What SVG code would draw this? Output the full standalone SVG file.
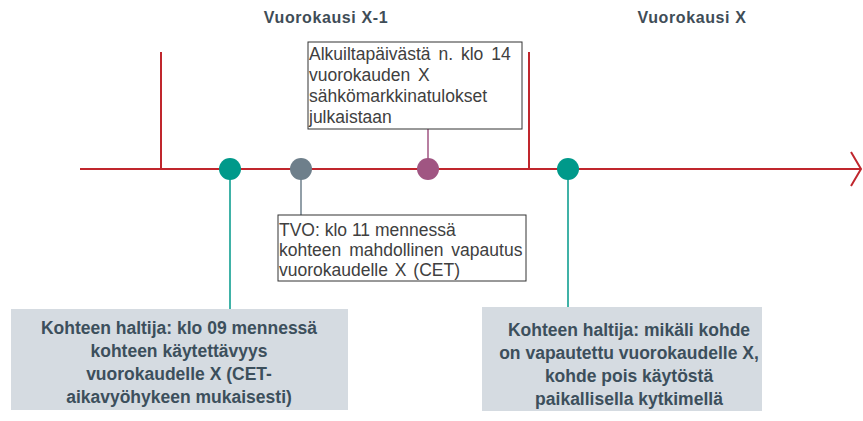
<svg xmlns="http://www.w3.org/2000/svg" width="863" height="421" viewBox="0 0 863 421">
<style>
.hdr{font-family:"Liberation Sans",Arial,sans-serif;font-weight:bold;font-size:16px;fill:#3f4d57;letter-spacing:0.6px;text-anchor:middle}
.note{font-family:"Liberation Sans",Arial,sans-serif;font-size:17.5px;fill:#404040}
.nbox{fill:#ffffff;stroke:#333333;stroke-width:1}
.gbox{fill:#d5dbe1}
.gtxt{font-family:"Liberation Sans",Arial,sans-serif;font-weight:bold;font-size:17.5px;fill:#3c4f5c;text-anchor:middle}
.red{stroke:#c0262d;stroke-width:2;fill:none}
</style>
<g id="connectors">
<line class="red" x1="80" y1="169" x2="861" y2="169"/>
<polyline class="red" points="851,152 861,169 851,186"/>
<line class="red" x1="161" y1="52" x2="161" y2="169"/>
<line class="red" x1="529" y1="52" x2="529" y2="169"/>
<line x1="230" y1="169" x2="230" y2="309" stroke="#00998a" stroke-width="1.5"/>
<line x1="301" y1="169" x2="301" y2="215" stroke="#6e7f8b" stroke-width="1.5"/>
<line x1="428" y1="169" x2="428" y2="129" stroke="#a05582" stroke-width="1.5"/>
<line x1="568" y1="169" x2="568" y2="307" stroke="#00998a" stroke-width="1.5"/>
</g>
<g id="header-x1"><text class="hdr" x="326" y="23">Vuorokausi X-1</text></g>
<g id="header-x"><text class="hdr" x="692" y="23">Vuorokausi X</text></g>
<g id="dot-teal-1"><circle cx="230" cy="169" r="11" fill="#00998a"/></g>
<g id="dot-gray"><circle cx="301" cy="169" r="11" fill="#6e7f8b"/></g>
<g id="dot-purple"><circle cx="428" cy="169" r="11" fill="#a05582"/></g>
<g id="dot-teal-2"><circle cx="568" cy="169" r="11" fill="#00998a"/></g>
<g id="note-results">
<rect class="nbox" x="308" y="42" width="214" height="87"/>
<text class="note" x="309" y="60" word-spacing="3">Alkuiltapäivästä n. klo 14</text>
<text class="note" x="309" y="81" word-spacing="3">vuorokauden X</text>
<text class="note" x="309" y="102">sähkömarkkinatulokset</text>
<text class="note" x="309" y="123">julkaistaan</text>
</g>
<g id="note-tvo">
<rect class="nbox" x="278" y="215" width="248" height="66"/>
<text class="note" x="279" y="236">TVO: klo 11 mennessä</text>
<text class="note" x="279" y="256" word-spacing="3">kohteen mahdollinen vapautus</text>
<text class="note" x="279" y="276" word-spacing="2">vuorokaudelle X (CET)</text>
</g>
<g id="box-left">
<rect class="gbox" x="11" y="309" width="337" height="101"/>
<text class="gtxt" x="179" y="334">Kohteen haltija: klo 09 mennessä</text>
<text class="gtxt" x="179" y="357">kohteen käytettävyys</text>
<text class="gtxt" x="179" y="380">vuorokaudelle X (CET-</text>
<text class="gtxt" x="179" y="403">aikavyöhykeen mukaisesti)</text>
</g>
<g id="box-right">
<rect class="gbox" x="482" y="307" width="280" height="104"/>
<text class="gtxt" x="629" y="336">Kohteen haltija: mikäli kohde</text>
<text class="gtxt" x="629" y="359">on vapautettu vuorokaudelle X,</text>
<text class="gtxt" x="629" y="382">kohde pois käytöstä</text>
<text class="gtxt" x="629" y="405">paikallisella kytkimellä</text>
</g>
</svg>
